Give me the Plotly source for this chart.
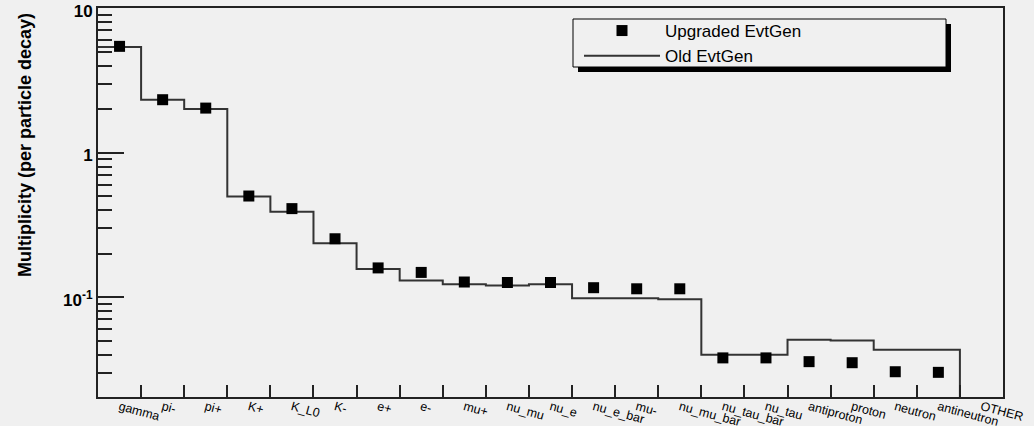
import plotly.graph_objects as go

categories = ["gamma", "pi-", "pi+", "K+", "K_L0", "K-", "e+", "e-", "mu+", "nu_mu",
              "nu_e", "nu_e_bar", "mu-", "nu_mu_bar", "nu_tau_bar", "nu_tau",
              "antiproton", "proton", "neutron", "antineutron", "OTHER"]
upgraded = [5.43, 2.32, 2.03, 0.50, 0.409, 0.253, 0.159, 0.148, 0.127, 0.126,
            0.126, 0.116, 0.114, 0.114, 0.0379, 0.0379, 0.0357, 0.0351, 0.0304, 0.0301, None]
old = [5.38, 2.32, 2.00, 0.497, 0.389, 0.236, 0.156, 0.130, 0.1227, 0.120,
       0.1227, 0.098, 0.098, 0.0965, 0.0399, 0.0399, 0.0506, 0.0500, 0.0431, 0.0431, 0.0]

y_minor = [0.03, 0.04, 0.05, 0.06, 0.07, 0.08, 0.09,
           0.2, 0.3, 0.4, 0.5, 0.6, 0.7, 0.8, 0.9,
           2, 3, 4, 5, 6, 7, 8, 9]

n = len(categories)
idx = list(range(n))
edges = [i - 0.5 for i in range(n + 1)]
floor = 1e-3  # zero bins drawn down to below the axis
old_plot = [v if v > 0 else floor for v in old]
step_y = old_plot + [old_plot[-1]]

mx = [i for i, v in zip(idx, upgraded) if v is not None]
my = [v for v in upgraded if v is not None]

FONT = "Liberation Sans, Arial, Helvetica, sans-serif"
BG = "#f0f0f0"
AX = "#222222"

fig = go.Figure()
fig.add_trace(go.Scatter(x=edges, y=step_y, mode="lines", name="Old EvtGen",
                         line=dict(shape="hv", color="#333333", width=2),
                         legendrank=2))
fig.add_trace(go.Scatter(x=mx, y=my, mode="markers", name="Upgraded EvtGen",
                         marker=dict(symbol="square", size=11, color="black"),
                         legendrank=1))

# legend box with shadow (ROOT style)
lx0, lx1 = (573 - 98) / 905, (946 - 98) / 905
ly1, ly0 = (397 - 19) / 389, (397 - 67) / 389
sx, sy = 5 / 905, 5 / 389
fig.add_shape(type="rect", xref="paper", yref="paper", x0=lx0 + sx, x1=lx1 + sx,
              y0=ly0 - sy, y1=ly1 - sy, fillcolor="black", line=dict(width=0), layer="above")
fig.add_shape(type="rect", xref="paper", yref="paper", x0=lx0, x1=lx1,
              y0=ly0, y1=ly1, fillcolor=BG, line=dict(color="black", width=1), layer="above")

fig.add_annotation(text="<b>Multiplicity (per particle decay)</b>", textangle=-90,
                   xref="paper", yref="paper", x=(25 - 98) / 905, y=(397 - 11) / 389,
                   xanchor="center", yanchor="top", showarrow=False,
                   font=dict(family=FONT, size=18, color="black"))

fig.update_layout(
    width=1034, height=426,
    margin=dict(l=98, r=31, t=8, b=29, autoexpand=False),
    paper_bgcolor=BG, plot_bgcolor=BG,
    showlegend=True,
    legend=dict(x=(579 - 98) / 905, y=(397 - 13) / 389, xanchor="left", yanchor="top",
                bgcolor="rgba(0,0,0,0)", borderwidth=0, itemwidth=76,
                font=dict(family=FONT, size=17, color="black")),
    xaxis=dict(range=[-0.5, n - 0.5], tickmode="array", tickvals=idx, ticktext=categories,
               tickangle=15, ticks="", showline=True, linecolor=AX, linewidth=2, mirror=True,
               showgrid=False, zeroline=False, automargin=False, ticklabelstandoff=-4,
               ticklabeloverflow="allow",
               tickfont=dict(family=FONT, size=12.5, color="black"),
               minor=dict(tickmode="array", tickvals=edges[1:-1], ticks="inside", ticklen=12,
                          tickwidth=2, tickcolor=AX, showgrid=False)),
    yaxis=dict(type="log", range=[-1.692, 1.0002], tickmode="array", tickvals=[0.1, 1, 10],
               ticktext=["10<sup>-1</sup>", "1", "10"], ticks="inside", ticklen=26,
               tickwidth=2, tickcolor=AX, showline=True, linecolor=AX, linewidth=2,
               mirror=True, showgrid=False, zeroline=False, automargin=False,
               ticklabeloverflow="allow", ticklabelshift=3,
               tickfont=dict(family=FONT, size=17, color="black", weight="bold"),
               minor=dict(tickmode="array", tickvals=y_minor, ticks="inside", ticklen=14,
                          tickwidth=2, tickcolor=AX, showgrid=False)),
)

fig.write_html("out.html")
